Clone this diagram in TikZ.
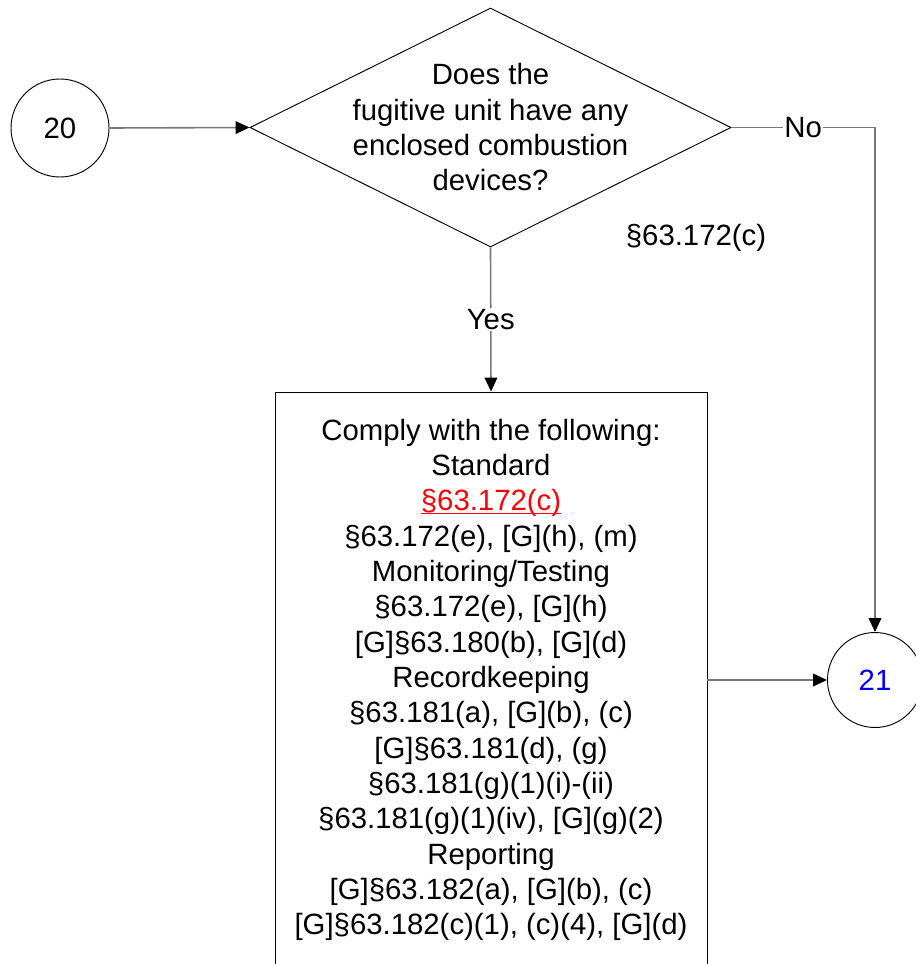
\documentclass[tikz,border=0pt]{standalone}
\usepackage{fontspec}
\setmainfont{Liberation Sans}
\usetikzlibrary{arrows.meta,shapes.geometric}
\definecolor{conn}{RGB}{120,120,120}
\definecolor{linkred}{RGB}{255,0,0}
\definecolor{linkblue}{RGB}{0,0,255}
\newcommand{\linkul}[1]{\leavevmode\setbox0\hbox{#1}\rlap{\rule[-2.2pt]{\wd0}{0.8pt}}\box0}
\tikzset{
  txt/.style={font=\fontsize{22}{26.5}\selectfont, align=center, inner sep=0pt},
  shapeline/.style={draw=black, line width=0.7pt},
  conline/.style={draw=conn, line width=1.2pt, -{Triangle[length=10.5pt,width=9.5pt,fill=black,color=black]}},
  lbl/.style={txt, fill=white, inner sep=1pt},
  conncircle/.style={circle, shapeline, txt},
}
\begin{document}
\begin{tikzpicture}[x=0.75pt,y=-0.75pt]
\useasboundingbox (0,0) rectangle (916,964);
\clip (0,0) rectangle (916,964);
\fill[white] (0,0) rectangle (916,964);
% connectors-circles
\node[conncircle, minimum size=73.5pt] (c20) at (60,128) {20};
\node[conncircle, minimum size=71.25pt, text=linkblue] (c21) at (875,680) {21};
% decision
\node[diamond, shapeline, minimum width=360.75pt, minimum height=179.25pt, inner sep=0pt] (q) at (490.5,127.5) {};
\node[txt] (qt) at (q.center) {Does the\\fugitive unit have any\\enclosed combustion\\devices?};
% box
\node[rectangle, shapeline, minimum width=324pt, minimum height=432pt, txt] (box) at (491,680)
  {Comply with the following:\\Standard\\{\color{linkred}\linkul{§63.172(c)}}\\§63.172(e), [G](h), (m)\\Monitoring/Testing\\§63.172(e), [G](h)\\{}[G]§63.180(b), [G](d)\\Recordkeeping\\§63.181(a), [G](b), (c)\\{}[G]§63.181(d), (g)\\§63.181(g)(1)(i)-(ii)\\§63.181(g)(1)(iv), [G](g)(2)\\Reporting\\{}[G]§63.182(a), [G](b), (c)\\{}[G]§63.182(c)(1), (c)(4), [G](d)};
% side label
\node[txt] (ref) at (696,238) {§63.172(c)};
% connectors
\draw[conline] (c20.east) -- (q.west);
\draw[conline] (q.east) -| node[lbl, pos=0.25] {No} (c21.north);
\draw[conline] (q.south) -- node[lbl] {Yes} (box.north);
\draw[conline] (box.east) -- (c21.west);
\end{tikzpicture}
\end{document}
